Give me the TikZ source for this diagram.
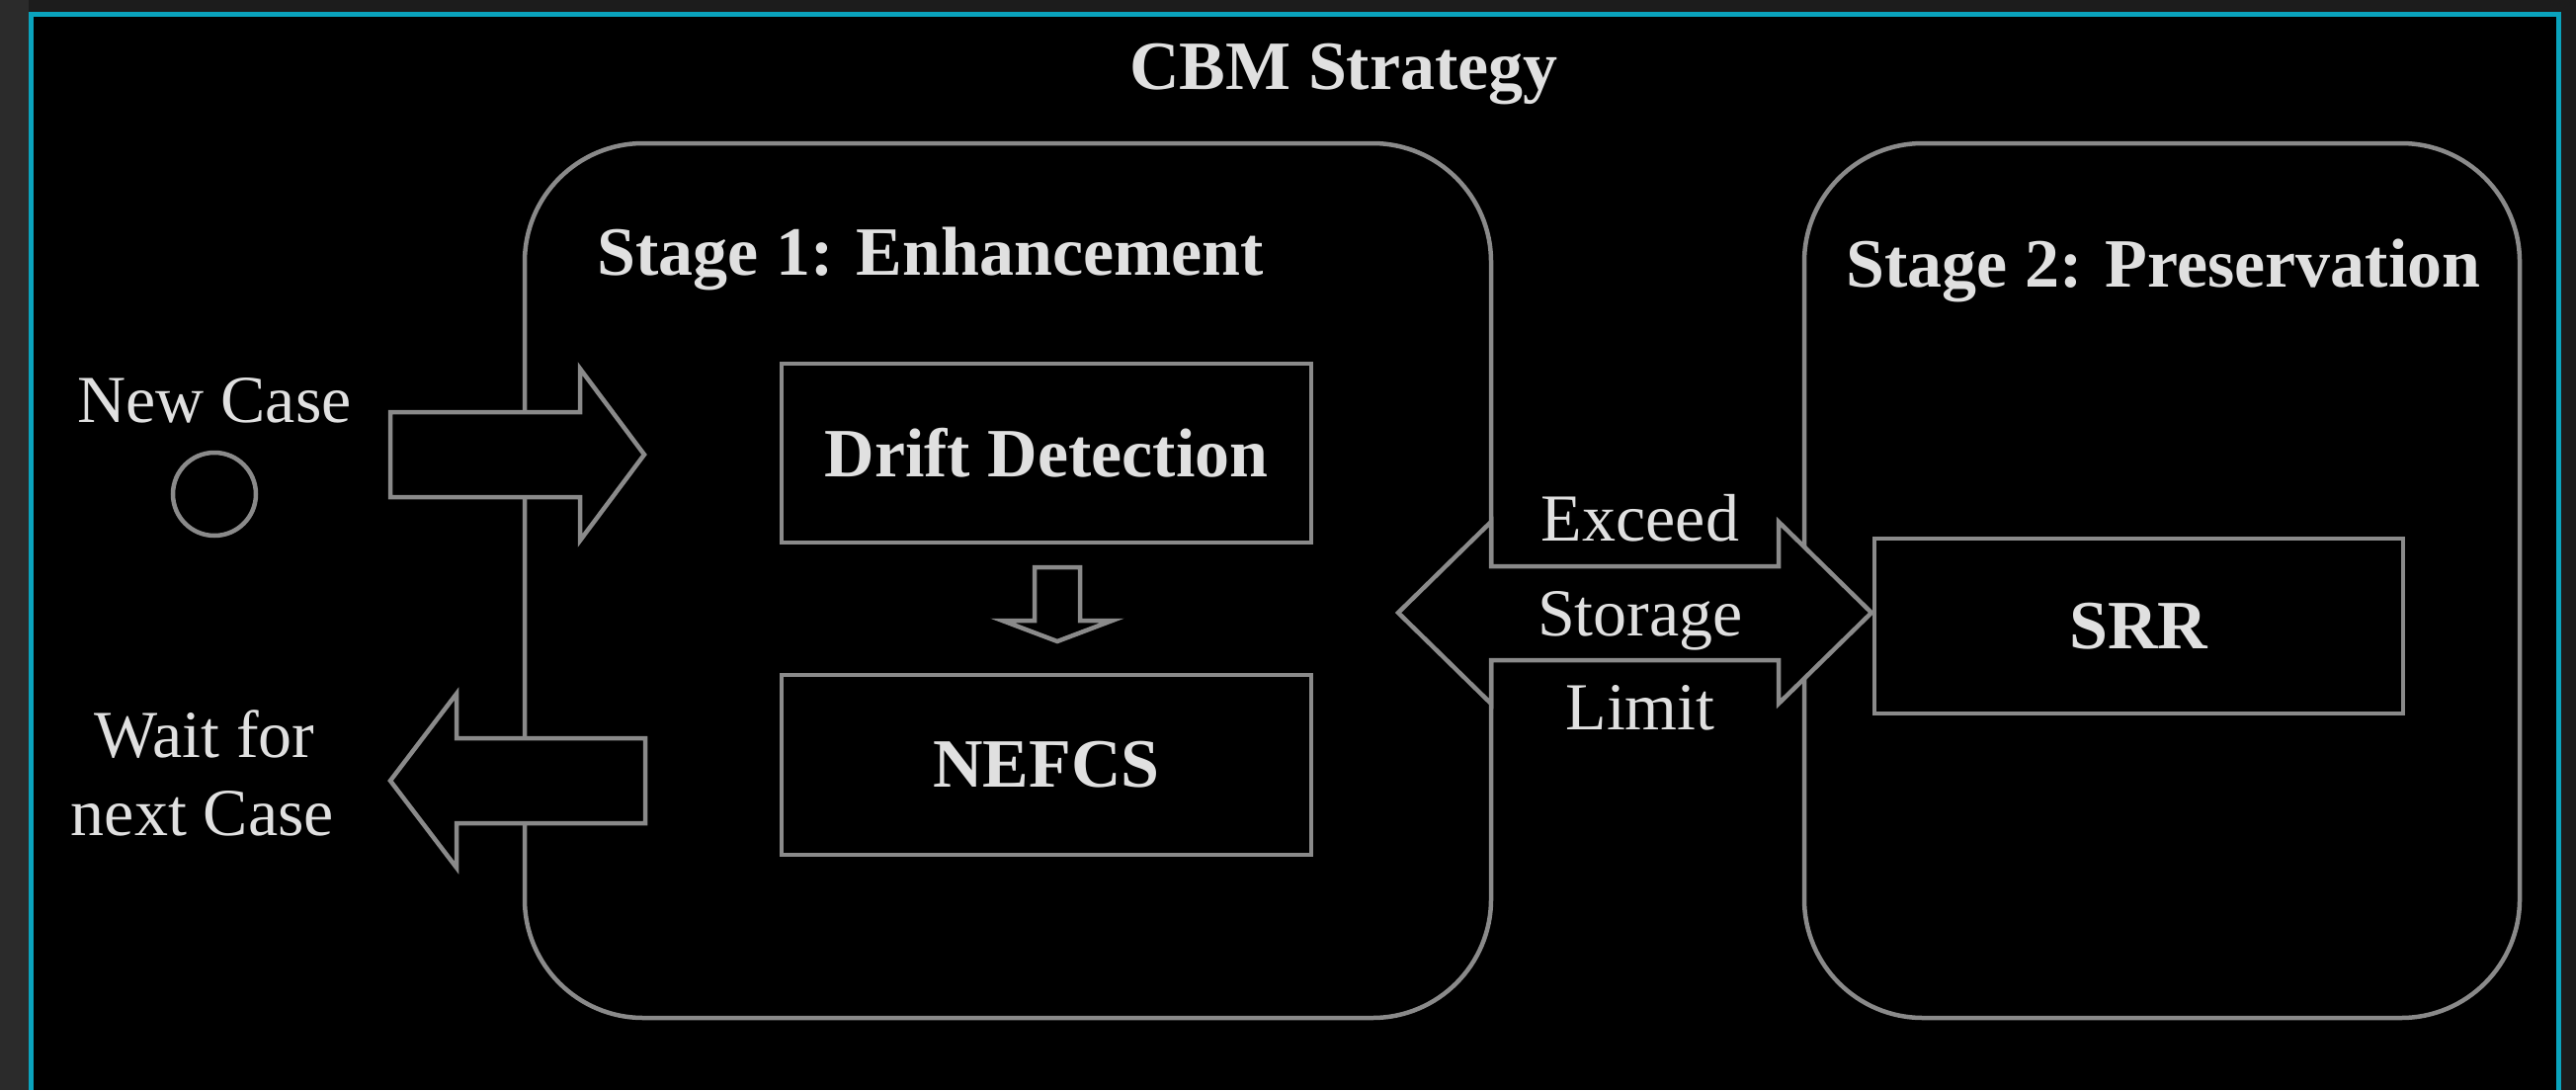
\documentclass[tikz,border=0pt]{standalone}
\usepackage{fontspec}
\setmainfont{Liberation Serif}
\definecolor{pagebg}{HTML}{1C1C1C}
\definecolor{sidebg}{HTML}{2B2B2B}
\definecolor{framecyan}{HTML}{0AA3BD}
\definecolor{linegray}{HTML}{8A8A8A}
\definecolor{txt}{HTML}{E0E0E0}
\newcommand\bfbig{\fontsize{70}{84}\selectfont\bfseries}
\newcommand\rmbig{\fontsize{68}{80}\selectfont}
\tikzset{
  edge/.style={draw=linegray, line width=4.5pt},
  stagebox/.style={edge, rounded corners=120pt, inner sep=0pt},
  procbox/.style={edge, inner sep=0pt, text=txt, font=\bfbig},
  blockarrow/.style={edge, fill=black, line join=miter},
  lbl/.style={text=txt, font=\rmbig, inner sep=0pt},
  heading/.style={lbl, font=\bfbig},
}
\begin{document}
\begin{tikzpicture}[x=1pt, y=-1pt]
% canvas and framed panel
\fill[pagebg] (0,0) rectangle (2607,1103);
\fill[sidebg] (0,0) rectangle (29,1103);
\useasboundingbox (0,0) rectangle (2607,1103);
\fill[black] (31.5,14.5) rectangle (2589,1103);
\draw[framecyan, line width=5pt] (31.5,1103) -- (31.5,14.5) -- (2589,14.5) -- (2589,1103);

\node[heading, anchor=base] (title) at (1360,90) {CBM Strategy};

% the two stages
\node[stagebox, minimum width=978pt, minimum height=885pt] (stage1) at (1020,587.5) {};
\node[stagebox, minimum width=724pt, minimum height=885pt] (stage2) at (2188,587.5) {};
\node[heading, anchor=base west] (stage1title) at (604,278) {Stage 1: Enhancement};
\node[heading, anchor=base west] (stage2title) at (1868,290) {Stage 2: Preservation};

% processing blocks
\node[procbox, minimum width=536pt, minimum height=181pt] (drift) at (1059,458.5) {Drift Detection};
\node[procbox, minimum width=536pt, minimum height=182pt] (nefcs) at (1059,774) {NEFCS};
\node[procbox, minimum width=535pt, minimum height=177pt] (srr) at (2164.5,633.5) {SRR};

% incoming case
\node[lbl, anchor=base] (newcaselbl) at (217,427) {New Case};
\node[edge, circle, minimum size=84pt, inner sep=0pt] (newcase) at (217,500) {};
\node[lbl, anchor=base] (waitlbl) at (207,766) {Wait for};
\node[lbl, anchor=base] (nextlbl) at (205,845) {next Case};

% block arrows
\draw[blockarrow] (395,417) -- (587,417) -- (587,373) -- (652,460) -- (587,547)
  -- (587,503) -- (395,503) -- cycle;
\draw[blockarrow] (653,747) -- (462,747) -- (462,702) -- (395,790) -- (462,878)
  -- (462,833) -- (653,833) -- cycle;
\draw[blockarrow] (1047,574) -- (1093,574) -- (1093,628) -- (1125.5,628) -- (1070,649)
  -- (1014.5,628) -- (1047,628) -- cycle;
\draw[blockarrow] (1415,620) -- (1509,528) -- (1509,573) -- (1800,573) -- (1800,528)
  -- (1894,620) -- (1800,712) -- (1800,668) -- (1509,668) -- (1509,712) -- cycle;

% label of the storage link
\node[lbl, anchor=base] (exceed) at (1660,547) {Exceed};
\node[lbl, anchor=base] (storage) at (1660,643) {Storage};
\node[lbl, anchor=base] (limit) at (1660,738) {Limit};
\end{tikzpicture}
\end{document}
